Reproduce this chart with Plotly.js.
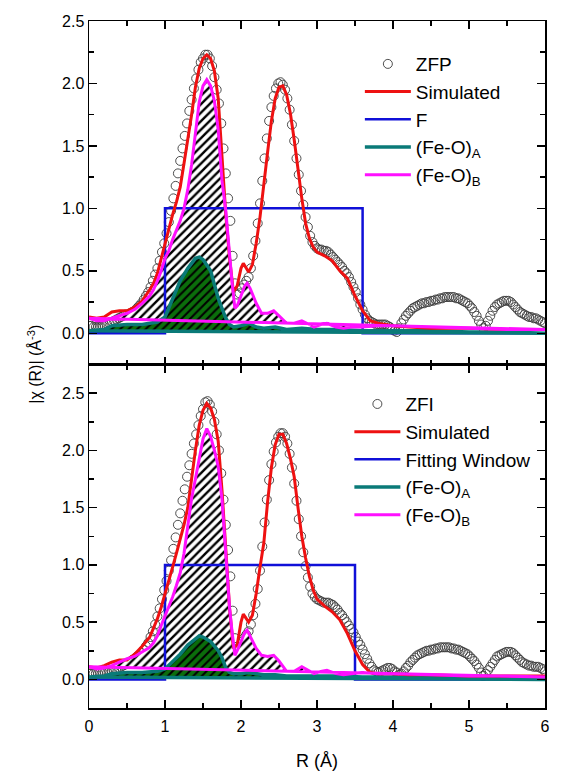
<!DOCTYPE html>
<html><head><meta charset="utf-8">
<script src="https://cdn.plot.ly/plotly-3.0.1.min.js"></script>
<style>html,body{margin:0;padding:0;background:#fff}#chart{width:561px;height:771px}</style>
</head><body><div id="chart"></div>
<script>
// ---- measured data grid (R, Å) ----
const rData = [
0.00,0.03,0.06,0.09,0.12,0.15,0.18,0.21,0.24,0.27,
0.30,0.33,0.36,0.39,0.42,0.45,0.48,0.51,0.54,0.57,
0.60,0.63,0.66,0.69,0.72,0.75,0.78,0.81,0.84,0.87,
0.90,0.93,0.96,0.99,1.02,1.05,1.08,1.11,1.14,1.17,
1.20,1.23,1.26,1.29,1.32,1.35,1.38,1.41,1.44,1.47,
1.50,1.53,1.56,1.59,1.62,1.65,1.68,1.71,1.74,1.77,
1.80,1.83,1.86,1.89,1.92,1.95,1.98,2.01,2.04,2.07,
2.10,2.13,2.16,2.19,2.22,2.25,2.28,2.31,2.34,2.37,
2.40,2.43,2.46,2.49,2.52,2.55,2.58,2.61,2.64,2.67,
2.70,2.73,2.76,2.79,2.82,2.85,2.88,2.91,2.94,2.97,
3.00,3.03,3.06,3.09,3.12,3.15,3.18,3.21,3.24,3.27,
3.30,3.33,3.36,3.39,3.42,3.45,3.48,3.51,3.54,3.57,
3.60,3.63,3.66,3.69,3.72,3.75,3.78,3.81,3.84,3.87,
3.90,3.93,3.96,3.99,4.02,4.05,4.08,4.11,4.14,4.17,
4.20,4.23,4.26,4.29,4.32,4.35,4.38,4.41,4.44,4.47,
4.50,4.53,4.56,4.59,4.62,4.65,4.68,4.71,4.74,4.77,
4.80,4.83,4.86,4.89,4.92,4.95,4.98,5.01,5.04,5.07,
5.10,5.13,5.16,5.19,5.22,5.25,5.28,5.31,5.34,5.37,
5.40,5.43,5.46,5.49,5.52,5.55,5.58,5.61,5.64,5.67,
5.70,5.73,5.76,5.79,5.82,5.85,5.88,5.91,5.94,5.97,
6.00];
const zfpData = [
0.06,0.06,0.05,0.05,0.05,0.05,0.06,0.06,0.07,0.08,
0.09,0.10,0.11,0.12,0.13,0.14,0.15,0.15,0.16,0.17,
0.18,0.20,0.22,0.24,0.27,0.30,0.33,0.37,0.42,0.47,
0.52,0.58,0.65,0.72,0.80,0.89,0.98,1.08,1.18,1.28,
1.38,1.48,1.58,1.68,1.78,1.87,1.96,2.04,2.11,2.17,
2.20,2.23,2.23,2.20,2.14,2.05,1.95,1.84,1.68,1.48,
1.28,1.08,0.90,0.62,0.40,0.31,0.32,0.36,0.39,0.42,
0.45,0.52,0.62,0.74,0.88,1.04,1.22,1.40,1.56,1.70,
1.81,1.90,1.96,2.00,2.01,1.99,1.95,1.88,1.79,1.67,
1.54,1.40,1.27,1.14,1.03,0.93,0.85,0.78,0.73,0.70,
0.68,0.67,0.67,0.66,0.66,0.65,0.63,0.61,0.59,0.57,
0.55,0.53,0.50,0.48,0.45,0.41,0.37,0.33,0.28,0.23,
0.19,0.15,0.12,0.10,0.09,0.08,0.07,0.07,0.07,0.07,
0.07,0.06,0.05,0.03,0.02,0.01,0.04,0.08,0.11,0.14,
0.16,0.18,0.20,0.21,0.22,0.23,0.24,0.24,0.25,0.25,
0.26,0.26,0.27,0.27,0.28,0.28,0.29,0.29,0.29,0.29,
0.29,0.28,0.28,0.27,0.26,0.25,0.24,0.22,0.20,0.17,
0.14,0.10,0.07,0.04,0.06,0.10,0.14,0.18,0.21,0.23,
0.24,0.25,0.26,0.26,0.26,0.25,0.23,0.21,0.19,0.17,
0.16,0.15,0.14,0.13,0.13,0.12,0.12,0.11,0.10,0.09,
0.08];
const zfiData = [
0.05,0.05,0.05,0.05,0.05,0.06,0.06,0.06,0.06,0.07,
0.07,0.08,0.09,0.10,0.11,0.12,0.13,0.14,0.15,0.17,
0.18,0.20,0.21,0.23,0.26,0.29,0.32,0.37,0.42,0.48,
0.55,0.62,0.70,0.78,0.86,0.95,1.04,1.14,1.24,1.35,
1.45,1.56,1.66,1.77,1.87,1.97,2.06,2.14,2.22,2.30,
2.36,2.42,2.43,2.40,2.34,2.25,2.14,2.00,1.80,1.57,
1.35,1.13,0.90,0.60,0.36,0.27,0.28,0.33,0.36,0.39,
0.42,0.48,0.56,0.66,0.79,0.95,1.16,1.37,1.57,1.74,
1.88,1.99,2.07,2.12,2.15,2.15,2.12,2.06,1.97,1.85,
1.71,1.56,1.40,1.25,1.11,0.99,0.89,0.81,0.75,0.72,
0.70,0.69,0.68,0.67,0.67,0.67,0.66,0.65,0.63,0.61,
0.58,0.56,0.53,0.50,0.47,0.44,0.41,0.37,0.33,0.30,
0.26,0.22,0.18,0.14,0.11,0.08,0.07,0.06,0.07,0.08,
0.09,0.10,0.10,0.09,0.07,0.06,0.04,0.05,0.07,0.10,
0.12,0.15,0.17,0.19,0.21,0.22,0.23,0.24,0.25,0.25,
0.26,0.26,0.27,0.27,0.28,0.28,0.28,0.28,0.28,0.27,
0.27,0.26,0.26,0.25,0.24,0.23,0.22,0.20,0.18,0.16,
0.13,0.10,0.06,0.03,0.05,0.08,0.11,0.14,0.17,0.20,
0.21,0.22,0.23,0.24,0.24,0.24,0.23,0.21,0.19,0.17,
0.15,0.14,0.13,0.12,0.12,0.11,0.11,0.11,0.10,0.09,
0.07];

// ---- simulated fits ----
const rFit = [0,0.1,0.2,0.3,0.4,0.5,0.6,0.7,0.8,0.85,0.9,0.95,1.0,
1.05,1.1,1.15,1.2,1.25,1.3,1.35,1.4,1.45,1.5,1.55,1.6,1.65,1.7,1.75,1.8,1.85,1.9,1.95,
2.0,2.03,2.07,2.1,
2.15,2.2,2.25,2.3,2.35,2.4,2.45,2.5,2.55,2.6,2.65,2.7,2.75,2.8,2.85,2.9,2.95,3.0,
3.1,3.2,3.3,3.4,3.5,3.6,3.7,3.8,3.9,4.0,4.2,4.5,5.0,5.5,6.0];
const zfpSim = [0.13,0.12,0.13,0.17,0.18,0.18,0.21,0.26,0.35,0.40,0.48,0.60,0.70,
0.83,0.95,1.05,1.17,1.36,1.55,1.75,1.97,2.12,2.20,2.23,2.20,2.10,1.88,1.42,0.95,0.60,0.33,0.38,
0.52,0.56,0.52,0.49,
0.55,0.72,0.93,1.17,1.45,1.70,1.88,1.97,1.98,1.91,1.76,1.55,1.30,1.08,0.88,0.76,0.69,0.65,
0.62,0.58,0.50,0.44,0.30,0.18,0.10,0.08,0.07,0.06,0.05,0.04,0.04,0.03,0.03];
const zfiSim = [0.11,0.10,0.12,0.15,0.17,0.17,0.22,0.29,0.37,0.45,0.53,0.63,0.74,
0.86,0.98,1.10,1.22,1.35,1.50,1.76,2.00,2.22,2.35,2.41,2.37,2.27,2.08,1.65,1.10,0.62,0.27,0.30,
0.50,0.57,0.53,0.50,
0.56,0.75,0.98,1.19,1.55,1.85,2.05,2.14,2.14,2.06,1.93,1.77,1.50,1.25,1.06,0.90,0.78,0.70,
0.64,0.59,0.52,0.40,0.25,0.13,0.06,0.05,0.05,0.05,0.04,0.04,0.03,0.03,0.03];

// ---- (Fe-O)B path ----
const rB = [0,0.1,0.2,0.3,0.4,0.5,0.6,0.7,0.8,0.85,0.9,0.95,1.0,
1.05,1.1,1.15,1.2,1.25,1.3,1.35,1.4,1.45,1.5,1.55,1.6,1.65,1.7,1.75,1.8,1.85,
1.88,1.92,1.95,2.0,2.05,2.08,2.12,
2.2,2.27,2.35,2.43,2.5,
2.6,2.7,2.8,2.9,2.96,
3.05,3.13,3.25,3.35,3.45,3.6,
3.8,4.0,4.5,5.0,5.5,6.0];
const zfpB = [0.12,0.10,0.10,0.12,0.14,0.16,0.19,0.24,0.30,0.35,0.42,0.50,0.60,
0.66,0.75,0.82,0.90,1.00,1.15,1.35,1.58,1.85,1.98,2.03,1.98,1.86,1.63,1.22,0.98,0.62,
0.42,0.20,0.22,0.30,0.38,0.40,0.36,
0.24,0.16,0.16,0.18,0.14,
0.08,0.08,0.10,0.07,0.05,
0.07,0.08,0.05,0.04,0.05,0.05,
0.06,0.06,0.05,0.04,0.03,0.03];
const zfiB = [0.11,0.09,0.10,0.12,0.15,0.18,0.20,0.24,0.28,0.32,0.38,0.47,0.55,
0.63,0.72,0.82,0.93,1.10,1.32,1.58,1.75,1.93,2.10,2.19,2.12,2.00,1.86,1.57,1.05,0.62,
0.43,0.21,0.25,0.33,0.41,0.43,0.38,
0.27,0.21,0.20,0.21,0.16,
0.07,0.07,0.11,0.07,0.05,
0.07,0.08,0.05,0.04,0.05,0.06,
0.05,0.05,0.04,0.03,0.03,0.02];

// ---- (Fe-O)A path ----
const rA = [0,0.2,0.3,0.5,0.7,0.9,1.0,1.1,1.2,1.3,1.4,1.45,1.5,1.6,1.7,1.75,1.8,1.85,1.9,2.0,2.1,2.2,2.3,2.45,2.6,2.8,3.0,3.3,3.6,4.0,4.5,5.0,5.5,6.0];
const zfpA = [0.02,0.03,0.06,0.07,0.07,0.09,0.13,0.27,0.42,0.52,0.60,0.61,0.59,0.50,0.28,0.20,0.12,0.07,0.05,0.06,0.08,0.05,0.04,0.05,0.03,0.04,0.03,0.03,0.02,0.02,0.02,0.01,0.01,0.00];
const zfiA = [0.02,0.03,0.05,0.06,0.06,0.07,0.09,0.15,0.22,0.30,0.36,0.38,0.37,0.33,0.25,0.19,0.10,0.06,0.05,0.05,0.06,0.05,0.04,0.04,0.03,0.03,0.03,0.03,0.02,0.02,0.02,0.01,0.01,0.00];

// ---- fitting windows ----
const winTopR = [0,1,1,3.6,3.6,6];
const winTopY = [0,0,1,1,0,0];
const winBotR = [0,1,1,3.5,3.5,6];
const winBotY = [0,0,1,1,0,0];

const panelNames = {
  top: ['ZFP','Simulated','F','(Fe-O)<sub>A</sub>','(Fe-O)<sub>B</sub>'],
  bot: ['ZFI','Simulated','Fitting Window','(Fe-O)<sub>A</sub>','(Fe-O)<sub>B</sub>']
};

function closed(xs, ys){ return {x: xs.concat([xs[0]]), y: ys.concat([ys[0]])}; }

function panel(names, xa, ya, leg, dY, simY, bY, aY, wR, wY){
  const bPath = closed(rB, bY), aPath = closed(rA, aY);
  return [
    {x:rData, y:dY, xaxis:xa, yaxis:ya, legend:leg, name:names[0], legendrank:1, mode:'markers', type:'scatter',
     marker:{symbol:'circle-open', size:9, color:'#3a3a3a', line:{width:0.9, color:'#3a3a3a'}}},
    {x:bPath.x, y:bPath.y, xaxis:xa, yaxis:ya, mode:'lines', fill:'toself', showlegend:false, hoverinfo:'skip',
     line:{width:0, color:'#fff'}, fillcolor:'#fff',
     fillpattern:{shape:'/', size:6, solidity:0.4, fgcolor:'#000', bgcolor:'#fff', fillmode:'replace'}},
    {x:wR, y:wY, xaxis:xa, yaxis:ya, legend:leg, name:names[2], legendrank:3, mode:'lines',
     line:{color:'#1010d8', width:2.5}},
    {x:aPath.x, y:aPath.y, xaxis:xa, yaxis:ya, mode:'lines', fill:'toself', showlegend:false, hoverinfo:'skip',
     line:{width:0, color:'#0b6e0b'}, fillcolor:'#0b6e0b',
     fillpattern:{shape:'/', size:6, solidity:0.35, fgcolor:'#000', bgcolor:'#0b6e0b', fillmode:'replace'}},
    {x:aPath.x, y:aPath.y, xaxis:xa, yaxis:ya, legend:leg, name:names[3], legendrank:4, mode:'lines',
     line:{color:'#0a7a78', width:3.5}},
    {x:rFit, y:simY, xaxis:xa, yaxis:ya, legend:leg, name:names[1], legendrank:2, mode:'lines',
     line:{color:'#ee1111', width:3}},
    {x:bPath.x, y:bPath.y, xaxis:xa, yaxis:ya, legend:leg, name:names[4], legendrank:5, mode:'lines',
     line:{color:'#ff10ff', width:3}}
  ];
}

const data = [].concat(
  panel(panelNames.top, 'x', 'y', 'legend', zfpData, zfpSim, zfpB, zfpA, winTopR, winTopY),
  panel(panelNames.bot, 'x2', 'y2', 'legend2', zfiData, zfiSim, zfiB, zfiA, winBotR, winBotY)
);

const FONT = 'Liberation Sans, Arial, sans-serif';
const axBase = {showline:true, linecolor:'#000', linewidth:1.5, mirror:'ticks', ticks:'inside', ticklen:8,
  tickwidth:1.5, tickcolor:'#000', showgrid:false, zeroline:false,
  tickfont:{family:FONT, size:16, color:'#000'}};
const xBase = Object.assign({}, axBase, {range:[0,6], dtick:1, tick0:0, ticklabelstandoff:3,
  minor:{ticks:'inside', ticklen:5, tickwidth:1.5, tickcolor:'#000', dtick:0.5}});
const yBase = Object.assign({}, axBase, {dtick:0.5, tick0:0, tickformat:'.1f',
  minor:{ticks:'inside', ticklen:5, tickwidth:1.5, tickcolor:'#000', dtick:0.25}});

const legBase = {xanchor:'left', yanchor:'top', bgcolor:'rgba(0,0,0,0)', borderwidth:0, itemwidth:46,
  font:{family:FONT, size:19, color:'#000'}, tracegroupgap:0};

const layout = {
  width:561, height:771,
  margin:{l:89, r:16, t:21, b:63},
  paper_bgcolor:'#fff', plot_bgcolor:'#fff',
  font:{family:FONT, color:'#000'},
  xaxis: Object.assign({}, xBase, {anchor:'y', domain:[0,1], showticklabels:false}),
  yaxis: Object.assign({}, yBase, {anchor:'x', domain:[0.5,1], range:[-0.25,2.5]}),
  xaxis2: Object.assign({}, xBase, {anchor:'y2', domain:[0,1],
    title:{text:'R (Å)', font:{family:FONT, size:18, color:'#000'}, standoff:22}}),
  yaxis2: Object.assign({}, yBase, {anchor:'x2', domain:[0,0.5], range:[-0.25,2.75]}),
  legend: Object.assign({}, legBase, {x:0.594, y:0.965}),
  legend2: Object.assign({}, legBase, {x:0.571, y:0.47}),
  showlegend:true,
  annotations:[{text:'|χ (R)| (Å<sup>-3</sup>)', xref:'paper', yref:'paper', x:-0.12, y:0.5,
    xanchor:'center', yanchor:'middle',
    textangle:-90, showarrow:false, font:{family:FONT, size:16, color:'#000'}}]
};

Plotly.newPlot('chart', data, layout, {displayModeBar:false, staticPlot:true});
</script>
</body></html>
